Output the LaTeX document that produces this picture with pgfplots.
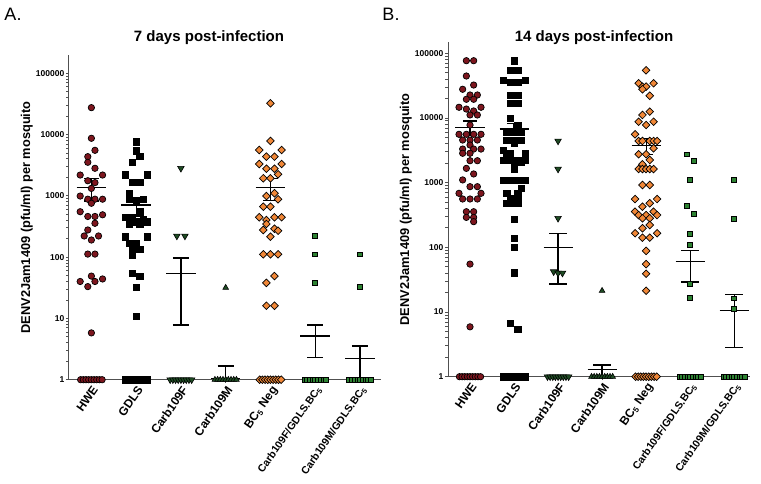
\documentclass[border=0pt]{standalone}
\usepackage{pgfplots}
\pgfplotsset{compat=1.18}
\usepackage{fontspec}
\setmainfont{Liberation Sans}
\definecolor{hwe}{RGB}{125,22,30}
\definecolor{bco}{RGB}{240,135,55}
\definecolor{dkg}{RGB}{30,75,35}
\definecolor{mg}{RGB}{45,130,50}
\definecolor{axc}{RGB}{80,80,80}
\pgfplotsset{
 hweS/.style={only marks, mark=*, mark size=3.2pt, mark options={fill=hwe, draw=black, line width=0.7pt}},
 gdlsS/.style={only marks, mark=square*, mark size=3.1pt, mark options={fill=black, draw=black}},
 cfS/.style={only marks, mark=triangle*, mark size=3.8pt, mark options={rotate=180, fill=dkg, draw=black, line width=0.6pt}},
 cmS/.style={only marks, mark=triangle*, mark size=3.3pt, mark options={fill=dkg, draw=black, line width=0.6pt}},
 bcS/.style={only marks, mark=square*, mark size=2.7pt, mark options={rotate=45, fill=bco, draw=black, line width=0.7pt}},
 gS/.style={only marks, mark=square*, mark size=2.4pt, mark options={fill=mg, draw=black, line width=0.7pt}},
 semline/.style={black, line width=1.2pt, no markers},
}
\newcommand{\semb}[6]{%
 \addplot[semline] table[row sep=\\, x expr=\thisrow{x}+#1] {x y\\ -0.33 #2\\ 0.33 #2\\};
 \addplot[semline] table[row sep=\\, x expr=\thisrow{x}+#1] {x y\\ 0 #3\\ 0 #4\\};
 \addplot[semline] table[row sep=\\, x expr=\thisrow{x}+#1] {x y\\ -#5 #4\\ #5 #4\\};
 \addplot[semline] table[row sep=\\, x expr=\thisrow{x}+#1] {x y\\ -#6 #3\\ #6 #3\\};
}
\begin{document}
\begin{tikzpicture}
\useasboundingbox (0pt,0pt) rectangle (761pt,483pt);
\node[font=\fontsize{18}{20}\selectfont] at (13pt,469pt) {A.};
\node[font=\fontsize{18}{20}\selectfont] at (391pt,469pt) {B.};
\node[font=\bfseries\fontsize{15}{18}\selectfont] at (209pt,445.5pt) {7 days post-infection};
\node[font=\bfseries\fontsize{15}{18}\selectfont] at (594pt,445.5pt) {14 days post-infection};

% ---------------- Panel A ----------------
\begin{axis}[scale only axis, anchor=south west, at={(69pt,103.3pt)}, width=312pt, height=324.7pt,
  ymode=log, ymin=1, ymax=198000, xmin=-0.5, xmax=6.47,
  axis lines=left, axis line style={-, line width=1pt, draw=axc},
  enlargelimits=false, clip=false,
  xtick={0,1,2,3,4,5,6},
  xticklabels={HWE, GDLS, Carb109F, Carb109M, BC\textsubscript{5} Neg, {\fontsize{10.5}{11}\selectfont Carb109F/GDLS.BC\textsubscript{5}}, {\fontsize{10.5}{11}\selectfont Carb109M/GDLS.BC\textsubscript{5}}},
  ytick={1,10,100,1000,10000,100000},
  yticklabels={1,10,100,1000,10000,100000},
  minor tick num=0,
  tick align=outside, major tick length=3pt,
  tick style={line width=0.8pt, draw=axc},
  yticklabel style={font=\bfseries\fontsize{8.5}{9}\selectfont, inner sep=1.5pt},
  xticklabel style={font=\bfseries\fontsize{12}{13}\selectfont, rotate=55, anchor=north east, inner sep=1.5pt},
  ylabel={DENV2Jam1409 (pfu/ml) per mosquito},
  ylabel style={font=\bfseries\fontsize{12.8}{13}\selectfont, yshift=-2pt}]
\addplot[hweS] coordinates {(0,27400) (0,8670) (0.08,5520) (-0.08,4350) (-0.08,3520) (0.08,2810) (-0.25,2180) (0.25,2180) (-0.08,1760) (0.08,1640) (0,1320) (-0.25,990) (-0.08,880) (0.08,880) (0.25,880) (0,755) (-0.25,550) (-0.08,460) (0.08,460) (0.25,490) (0.08,356) (-0.08,277) (-0.16,221) (0.16,221) (0,190) (-0.08,112) (0.08,112) (-0.25,40) (-0.08,33) (0.08,40) (0.25,44) (0,49) (0,5.8)
 (-0.24,1) (-0.18,1) (-0.12,1) (-0.06,1) (0,1) (0.06,1) (0.12,1) (0.18,1) (0.24,1)};
\addplot[gdlsS] coordinates {(1,7630) (1,5450) (1.08,4460) (0.92,3560) (0.75,2210) (1.25,2210) (0.92,1680) (1.08,1680) (0.84,1100) (0.84,877) (1.16,877) (1,830) (1.08,560) (1.08,519) (0.75,446) (0.92,446) (1.16,420) (1,378) (0.84,347) (1.08,347) (1.25,378) (0.75,215) (1.25,215) (0.84,168) (1,168) (0.92,136) (1.08,136) (0.92,108) (0.92,54) (1.08,49) (1,32) (1,10.9)
 (0.76,1) (0.82,1) (0.88,1) (0.94,1) (1,1) (1.06,1) (1.12,1) (1.18,1) (1.24,1)};
\addplot[cfS] coordinates {(2,2810) (1.91,221) (2.09,221)
 (1.76,1) (1.82,1) (1.88,1) (1.94,1) (2,1) (2.06,1) (2.12,1) (2.18,1) (2.24,1)};
\addplot[cmS] coordinates {(3,31.7)
 (2.76,1) (2.82,1) (2.88,1) (2.94,1) (3,1) (3.06,1) (3.12,1) (3.18,1) (3.24,1)};
\addplot[bcS] coordinates {(4,32300) (4,7840) (3.75,5590) (4.25,5590) (3.91,4350) (4.09,4350) (3.75,3300) (4.25,3300) (3.91,2770) (4.09,2770) (4.17,2240) (3.84,1930) (4,1930) (3.91,990) (4.09,1100) (4.17,877) (3.84,664) (4,664) (3.75,446) (3.91,403) (4.09,446) (4.25,446) (3.91,347) (3.84,277) (4.09,290) (4.17,270) (4,215) (3.84,111) (4,111) (4.17,111) (4.09,49) (3.91,38) (3.91,16.1) (4.09,16.1)
 (3.76,1) (3.82,1) (3.88,1) (3.94,1) (4,1) (4.06,1) (4.12,1) (4.18,1) (4.24,1)};
\addplot[gS] coordinates {(5,221) (5,111) (5,38)
 (4.76,1) (4.82,1) (4.88,1) (4.94,1) (5,1) (5.06,1) (5.12,1) (5.18,1) (5.24,1)};
\addplot[gS] coordinates {(6,111) (6,32.5)
 (5.76,1) (5.82,1) (5.88,1) (5.94,1) (6,1) (6.06,1) (6.12,1) (6.18,1) (6.24,1)};
\semb{0}{1376}{820}{1930}{0.16}{0.16}
\semb{1}{708}{480}{940}{0.16}{0.16}
\semb{2}{53.6}{7.8}{96.7}{0.18}{0.18}
\semb{3}{1.05}{1}{1.67}{0.18}{0}
\semb{4}{1376}{830}{1900}{0.16}{0.16}
\semb{5}{5.16}{2.29}{7.8}{0.18}{0.18}
\semb{6}{2.23}{1}{3.55}{0.18}{0}
\end{axis}

% ---------------- Panel B ----------------
\begin{axis}[scale only axis, anchor=south west, at={(448pt,106.3pt)}, width=302pt, height=334.7pt,
  ymode=log, ymin=1, ymax=149000, xmin=-0.5, xmax=6.36,
  axis lines=left, axis line style={-, line width=1pt, draw=axc},
  enlargelimits=false, clip=false,
  xtick={0,1,2,3,4,5,6},
  xticklabels={HWE, GDLS, Carb109F, Carb109M, BC\textsubscript{5} Neg, {\fontsize{10.5}{11}\selectfont Carb109F/GDLS.BC\textsubscript{5}}, {\fontsize{10.5}{11}\selectfont Carb109M/GDLS.BC\textsubscript{5}}},
  ytick={1,10,100,1000,10000,100000},
  yticklabels={1,10,100,1000,10000,100000},
  minor tick num=0,
  tick align=outside, major tick length=3pt,
  tick style={line width=0.8pt, draw=axc},
  yticklabel style={font=\bfseries\fontsize{8.5}{9}\selectfont, inner sep=1.5pt},
  xticklabel style={font=\bfseries\fontsize{12}{13}\selectfont, rotate=55, anchor=north east, inner sep=1.5pt},
  ylabel={DENV2Jam1409 (pfu/ml) per mosquito},
  ylabel style={font=\bfseries\fontsize{12.8}{13}\selectfont, yshift=-2pt}]
\addplot[hweS] coordinates {(-0.083,76600) (0.083,76600) (-0.083,44400) (0.083,32200) (-0.167,27700) (0,22600) (0.167,22600) (-0.083,19400) (0.083,19400) (-0.25,14600) (0.25,14600) (-0.083,13700) (0.083,12800) (0,11100) (0.167,11100) (0,7760) (-0.25,5580) (-0.083,5580) (0.083,5580) (0.25,5580) (-0.167,4550) (0,4550) (0.167,4550) (0,3810) (-0.167,3300) (0.083,3300) (0.25,3300) (-0.167,2840) (0,2840) (0,2180) (0.167,2180) (-0.083,1660) (0.083,1360) (-0.167,1100) (0,865) (0.167,865) (-0.25,683) (0.25,683) (-0.167,558) (0,558) (0.167,558) (-0.083,355) (0.083,355) (-0.083,290) (0.083,290) (0.083,249) (0,55) (0,5.9)
 (-0.24,1) (-0.18,1) (-0.12,1) (-0.06,1) (0,1) (0.06,1) (0.12,1) (0.18,1) (0.24,1)};
\addplot[gdlsS] coordinates {(1,76600) (0.917,55000) (1.083,55000) (0.75,38500) (0.917,36000) (1.083,36000) (1.25,38500) (0.917,22600) (1.083,22600) (0.917,16800) (1.083,16800) (0.917,9860) (1.083,7760) (1.083,6900) (0.833,6120) (1,6120) (1.167,6120) (0.833,4550) (0.917,4550) (1.083,4550) (1.167,4550) (1,4050) (0.75,3190) (0.833,2840) (0.917,2840) (1.25,2840) (0.75,2230) (0.917,2230) (1.083,2230) (1.25,2230) (1,2100) (1.167,2100) (1,1620) (0.75,1100) (0.917,1100) (1.083,1100) (1.25,1100) (1.167,817) (0.833,683) (1.083,683) (0.917,571) (1.083,571) (0.833,479) (1,479) (1.083,479) (1,271) (1,138) (1,99) (1,40.5) (0.917,6.8) (1.083,5.5)
 (0.76,1) (0.82,1) (0.88,1) (0.94,1) (1,1) (1.06,1) (1.12,1) (1.18,1) (1.24,1)};
\addplot[cfS] coordinates {(2,4400) (2,1620) (2,281) (1.9,42) (2,40) (2.1,40)
 (1.76,1) (1.82,1) (1.88,1) (1.94,1) (2,1) (2.06,1) (2.12,1) (2.18,1) (2.24,1)};
\addplot[cmS] coordinates {(3,21.3)
 (2.76,1) (2.82,1) (2.88,1) (2.94,1) (3,1) (3.06,1) (3.12,1) (3.18,1) (3.24,1)};
\addplot[bcS] coordinates {(4,54400) (3.83,34300) (4.17,34300) (3.917,30400) (4,30400) (3.917,27700) (4.083,22000) (4.083,12500) (3.917,11100) (3.83,8730) (4.17,8730) (4,7760) (3.75,5580) (3.83,4400) (3.917,4400) (4.083,4400) (4.17,4400) (4.25,4400) (4.17,3390) (3.83,2740) (4,2740) (4.083,2240) (3.917,1920) (3.83,1620) (3.917,1620) (4,1620) (4.083,1620) (4.17,1620) (3.917,918) (4.083,918) (3.75,557) (4.25,557) (4.083,479) (3.917,425) (3.75,355) (4.17,355) (3.83,315) (4,315) (4.25,315) (3.917,281) (4.083,281) (4.083,221) (3.917,197) (3.75,165) (4.25,165) (3.917,141) (4.083,141) (4,88) (4,55) (4,39) (4,21.3)
 (3.76,1) (3.82,1) (3.88,1) (3.94,1) (4,1) (4.06,1) (4.12,1) (4.18,1) (4.24,1)};
\addplot[gS] coordinates {(4.917,2740) (5.083,2180) (5,1100) (4.917,440) (5.083,327) (5,161) (5,109) (5,27) (5,16.6)
 (4.76,1) (4.82,1) (4.88,1) (4.94,1) (5,1) (5.06,1) (5.12,1) (5.18,1) (5.24,1)};
\addplot[gS] coordinates {(6,1100) (6,274) (6,16.3) (6,11.1)
 (5.76,1) (5.82,1) (5.88,1) (5.94,1) (6,1) (6.06,1) (6.12,1) (6.18,1) (6.24,1)};
\semb{0}{7060}{5310}{8960}{0.16}{0.16}
\semb{1}{6730}{5300}{8240}{0.16}{0.16}
\semb{2}{100}{27}{165}{0.2}{0.2}
\semb{3}{1.30}{1}{1.52}{0.2}{0}
\semb{4}{3720}{2740}{4840}{0.16}{0.16}
\semb{5}{60}{29}{89}{0.2}{0.2}
\semb{6}{10.7}{2.85}{18.8}{0.2}{0.2}
\end{axis}
\end{tikzpicture}
\end{document}
